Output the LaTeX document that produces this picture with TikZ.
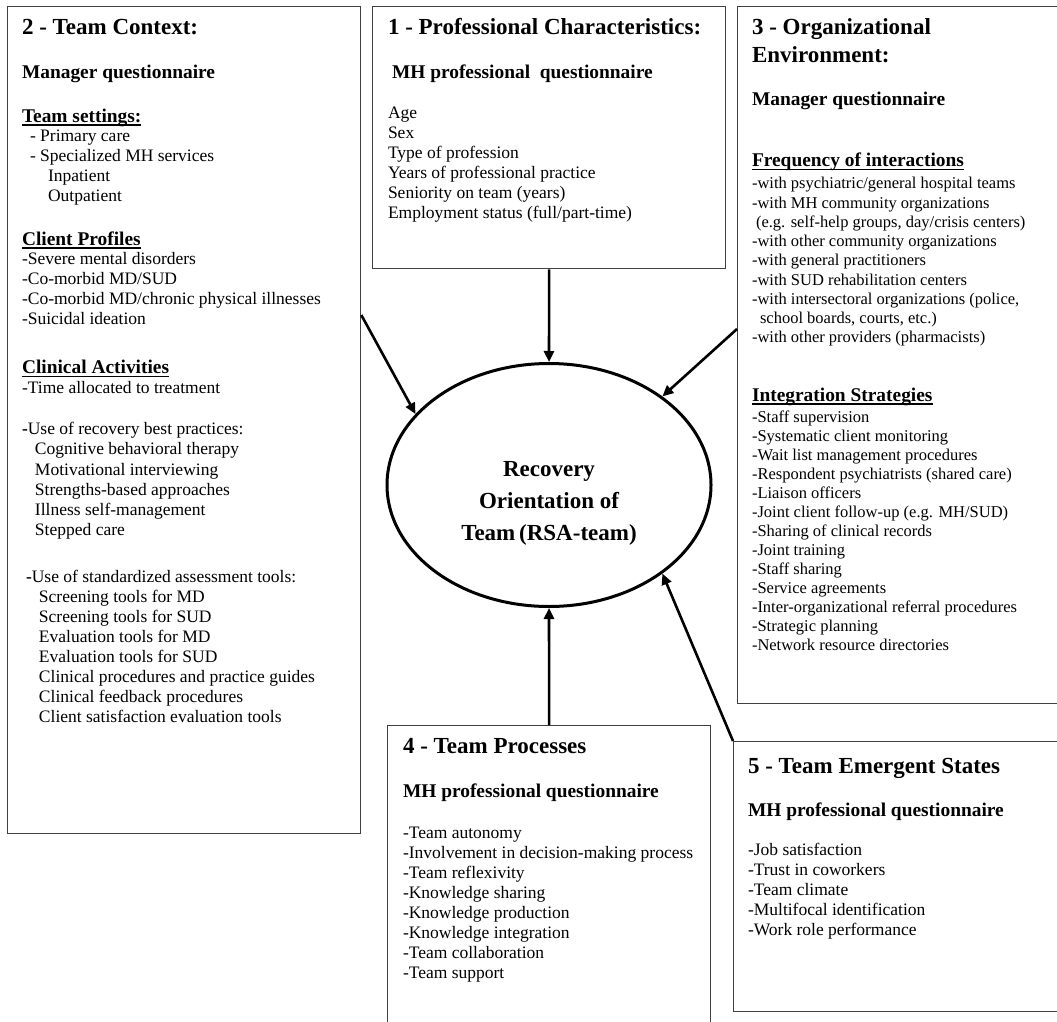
\documentclass[tikz,border=0pt]{standalone}
\usepackage{fontspec}
\setmainfont{Liberation Serif}
\usetikzlibrary{arrows.meta,shapes.geometric}
\newcommand\hdl[2]{{\fontsize{23}{#1}\selectfont\bfseries #2\par}}
\newcommand\shl[2]{{\fontsize{19.4}{#1}\selectfont\bfseries #2\par}}
\newcommand\bdl[2]{{\fontsize{17.5}{#1}\selectfont #2\par}}
\newcommand\bsl[2]{{\fontsize{16.5}{#1}\selectfont #2\par}}
\newcommand\ulx[1]{\leavevmode\setbox0\hbox{#1}\rlap{\rule[-2.9pt]{\wd0}{1.3pt}}\box0}
\tikzset{
  box/.style={draw=black!75, line width=1.3pt, inner sep=0pt, anchor=north west},
  txt/.style={anchor=base west, inner sep=0pt, outer sep=0pt},
  arr/.style={line width=2.6pt, -{Triangle[length=11pt,width=10pt]}},
}
\begin{document}
\begin{tikzpicture}[x=1pt,y=-1pt]
\useasboundingbox (0,0) rectangle (1057,1022);
\fill[white] (0,0) rectangle (1057,1022);
% boxes
\node[box, minimum width=353pt, minimum height=827pt] (b2) at (7,6) {};
\node[box, minimum width=353pt, minimum height=262pt] (b1) at (372,6) {};
\node[box, minimum width=340pt, minimum height=697pt] (b3) at (737,6) {};
\node[box, minimum width=323pt, minimum height=320pt] (b4) at (387,725) {};
\node[box, minimum width=340pt, minimum height=270pt] (b5) at (733,741) {};
% box 2 text
\node[txt] (t2) at (22,35) {\begin{minipage}[t]{340pt}\raggedright
\hdl{23}{2 - Team Context:}
\shl{44}{Manager questionnaire}
\shl{43.7}{\ulx{Team settings:}}
\bdl{19}{\hspace*{8pt}- Primary care}
\bdl{20}{\hspace*{8pt}- Specialized MH services}
\bdl{20}{\hspace*{26pt}Inpatient}
\bdl{20.3}{\hspace*{26pt}Outpatient}
\shl{43.7}{\ulx{Client Profiles}}
\bdl{19.3}{-Severe mental disorders}
\bdl{20}{-Co-morbid MD/SUD}
\bdl{20}{-Co-morbid MD/chronic physical illnesses}
\bdl{20}{-Suicidal ideation}
\shl{49}{\ulx{Clinical Activities}}
\bdl{20}{-Time allocated to treatment}
\bdl{41}{\textbf{-}Use of recovery best practices:}
\bdl{20}{\hspace*{13pt}Cognitive behavioral therapy}
\bdl{21}{\hspace*{13pt}Motivational interviewing}
\bdl{20}{\hspace*{13pt}Strengths-based approaches}
\bdl{20}{\hspace*{13pt}Illness self-management}
\bdl{20}{\hspace*{13pt}Stepped care}
\bdl{46.7}{\hspace*{4pt}\textbf{-}Use of standardized assessment tools:}
\bdl{20.3}{\hspace*{17pt}Screening tools for MD}
\bdl{20}{\hspace*{17pt}Screening tools for SUD}
\bdl{20}{\hspace*{17pt}Evaluation tools for MD}
\bdl{20}{\hspace*{17pt}Evaluation tools for SUD}
\bdl{20}{\hspace*{17pt}Clinical procedures and practice guides}
\bdl{20}{\hspace*{17pt}Clinical feedback procedures}
\bdl{20}{\hspace*{17pt}Client satisfaction evaluation tools}
\end{minipage}};
% box 1 text
\node[txt] (t1) at (388,35) {\begin{minipage}[t]{340pt}\raggedright
\hdl{23}{1 - Professional Characteristics:}
\shl{44}{\hspace*{4pt}MH professional\ \ questionnaire}
\bdl{40}{Age}
\bdl{20}{Sex}
\bdl{20}{Type of profession}
\bdl{20}{Years of professional practice}
\bdl{20}{Seniority on team (years)}
\bdl{20}{Employment status (full/part-time)}
\end{minipage}};
% box 3 text
\node[txt] (t3) at (752,35) {\begin{minipage}[t]{340pt}\raggedright
\hdl{23}{3 - Organizational}
\hdl{28}{Environment:}
\shl{43}{Manager questionnaire}
\shl{61}{\ulx{Frequency of interactions}}
\bsl{22}{-with psychiatric/general hospital teams}
\bsl{19.25}{-with MH community organizations}
\bsl{19.25}{\hspace*{4pt}(e.g. self-help groups, day/crisis centers)}
\bsl{19.25}{-with other community organizations}
\bsl{19.25}{-with general practitioners}
\bsl{19.25}{-with SUD rehabilitation centers}
\bsl{19.25}{-with intersectoral organizations (police,}
\bsl{19.25}{\hspace*{8pt}school boards, courts, etc.)}
\bsl{19.25}{-with other providers (pharmacists)}
\shl{58.7}{\ulx{Integration Strategies}}
\bsl{21.3}{-Staff supervision}
\bsl{19}{-Systematic client monitoring}
\bsl{19}{-Wait list management procedures}
\bsl{19}{-Respondent psychiatrists (shared care)}
\bsl{19}{-Liaison officers}
\bsl{19}{-Joint client follow-up (e.g. MH/SUD)}
\bsl{19}{-Sharing of clinical records}
\bsl{19}{-Joint training}
\bsl{19}{-Staff sharing}
\bsl{19}{-Service agreements}
\bsl{19}{-Inter-organizational referral procedures}
\bsl{19}{-Strategic planning}
\bsl{19}{-Network resource directories}
\end{minipage}};
% box 4 text
\node[txt] (t4) at (403,753) {\begin{minipage}[t]{320pt}\raggedright
\hdl{23}{4 - Team Processes}
\shl{44}{MH professional questionnaire}
\bdl{41}{-Team autonomy}
\bdl{20}{-Involvement in decision-making process}
\bdl{20}{-Team reflexivity}
\bdl{20}{-Knowledge sharing}
\bdl{20}{-Knowledge production}
\bdl{20}{-Knowledge integration}
\bdl{20}{-Team collaboration}
\bdl{20}{-Team support}
\end{minipage}};
% box 5 text
\node[txt] (t5) at (748,773) {\begin{minipage}[t]{320pt}\raggedright
\hdl{23}{5 - Team Emergent States}
\shl{43}{MH professional questionnaire}
\bdl{39}{-Job satisfaction}
\bdl{20}{-Trust in coworkers}
\bdl{20}{-Team climate}
\bdl{20}{-Multifocal identification}
\bdl{20}{-Work role performance}
\end{minipage}};
% central ellipse
\node[draw, ellipse, line width=3pt, minimum width=324pt, minimum height=243pt, inner sep=0pt] (ell) at (549,485) {};
\node[anchor=base, inner sep=0pt] (et) at (549,476) {\begin{minipage}[t]{300pt}\centering
\hdl{32}{Recovery}
\hdl{32}{Orientation of}
\hdl{32}{Team\,(RSA-team)}
\end{minipage}};
% connectors
\draw[arr] (b1.south) -- (ell.north);
\draw[arr] ([yshift=-309pt]b2.north east) -- (ell.152);
\draw[arr] ([yshift=-323pt]b3.north west) -- (ell.38);
\draw[arr] (b4.north) -- (ell.south);
\draw[arr] (b5.north west) -- (ell.-38);
\end{tikzpicture}
\end{document}
